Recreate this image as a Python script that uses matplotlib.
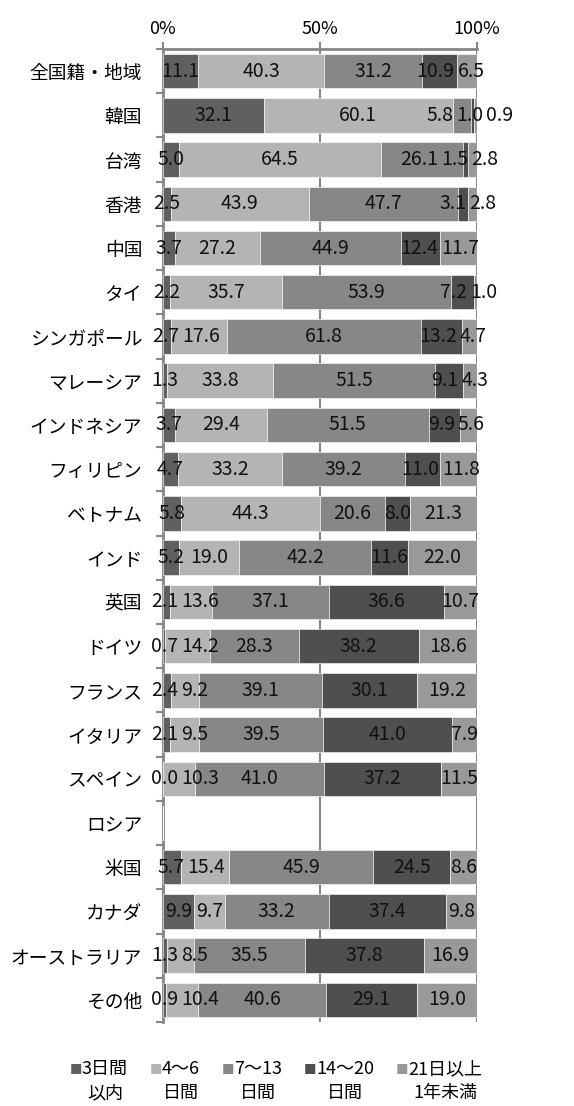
import numpy as np
import matplotlib
matplotlib.use("Agg")
import matplotlib.pyplot as plt

plt.rcParams['font.family'] = ['Noto Sans CJK JP', 'DejaVu Sans']

# カテゴリ（上から順）
categories = ["全国籍・地域", "韓国", "台湾", "香港", "中国", "タイ", "シンガポール",
              "マレーシア", "インドネシア", "フィリピン", "ベトナム", "インド", "英国",
              "ドイツ", "フランス", "イタリア", "スペイン", "ロシア", "米国", "カナダ",
              "オーストラリア", "その他"]

series_names = ["3日間\n以内", "4～6\n日間", "7～13\n日間", "14～20\n日間", "21日以上\n1年未満"]
colors = ["#606060", "#b4b4b4", "#878787", "#4f4f4f", "#999999"]

nan = np.nan
s_3days = [11.1, 32.1, 5.0, 2.5, 3.7, 2.2, 2.7, 1.3, 3.7, 4.7, 5.8, 5.2, 2.1, 0.7, 2.4, 2.1, 0.0, nan, 5.7, 9.9, 1.3, 0.9]
s_4_6 = [40.3, 60.1, 64.5, 43.9, 27.2, 35.7, 17.6, 33.8, 29.4, 33.2, 44.3, 19.0, 13.6, 14.2, 9.2, 9.5, 10.3, nan, 15.4, 9.7, 8.5, 10.4]
s_7_13 = [31.2, 5.8, 26.1, 47.7, 44.9, 53.9, 61.8, 51.5, 51.5, 39.2, 20.6, 42.2, 37.1, 28.3, 39.1, 39.5, 41.0, nan, 45.9, 33.2, 35.5, 40.6]
s_14_20 = [10.9, 1.0, 1.5, 3.1, 12.4, 7.2, 13.2, 9.1, 9.9, 11.0, 8.0, 11.6, 36.6, 38.2, 30.1, 41.0, 37.2, nan, 24.5, 37.4, 37.8, 29.1]
s_21plus = [6.5, 0.9, 2.8, 2.8, 11.7, 1.0, 4.7, 4.3, 5.6, 11.8, 21.3, 22.0, 10.7, 18.6, 19.2, 7.9, 11.5, nan, 8.6, 9.8, 16.9, 19.0]

series = [s_3days, s_4_6, s_7_13, s_14_20, s_21plus]
xticks = [0, 50, 100]
xticklabels = ["0%", "50%", "100%"]

W, H = 574, 1106
fig = plt.figure(figsize=(W / 100, H / 100), dpi=100)
ax = fig.add_axes([163 / W, 1 - 1022 / H, (477 - 163) / W, (1022 - 49) / H])

y = np.arange(len(categories))
left = np.zeros(len(categories))
gray = "#868686"

label_rows = [[] for _ in categories]
for vals, col in zip(series, colors):
    v = np.array(vals, dtype=float)
    vv = np.nan_to_num(v)
    ax.barh(y, vv, left=left, height=0.78, color=col, edgecolor="white",
            linewidth=0.4, zorder=3)
    for i, val in enumerate(v):
        if np.isnan(val):
            continue
        t = ax.text(left[i] + val / 2, y[i], f"{val:.1f}", ha="center", va="center",
                    fontsize=14, color="#111111", zorder=5)
        label_rows[i].append(t)
    left += vv

ax.set_xlim(0, 100)
ax.set_ylim(len(categories) - 0.5, -0.5)

# gridlines / spines
for gx in [50, 100]:
    ax.axvline(gx, color=gray, lw=1.5, zorder=1)
for s in ["right", "bottom"]:
    ax.spines[s].set_visible(False)
for s in ["left", "top"]:
    ax.spines[s].set_color(gray)
    ax.spines[s].set_linewidth(2)

ax.xaxis.tick_top()
ax.set_xticks(xticks)
ax.set_xticklabels(xticklabels, fontsize=13)
ax.tick_params(axis="x", direction="out", length=5, width=1.5, color=gray, pad=3)

ax.set_yticks(y)
ax.set_yticklabels(categories, fontsize=13.5)
ax.tick_params(axis="y", which="major", length=0, pad=15)
ax.set_yticks(np.arange(len(categories) + 1) - 0.5, minor=True)
ax.tick_params(axis="y", which="minor", direction="out", length=5, width=1.5, color=gray)

# 重なったラベルをずらす
fig.canvas.draw()
r = fig.canvas.get_renderer()
inv = ax.transData.inverted()
gap = 3
for texts in label_rows:
    if not texts:
        continue
    bbs = [t.get_window_extent(r) for t in texts]
    c = [(b.x0 + b.x1) / 2 for b in bbs]
    w = [b.width for b in bbs]
    ypix = (bbs[0].y0 + bbs[0].y1) / 2
    for _ in range(200):
        moved = False
        for k in range(len(c) - 1):
            ov = (c[k] + w[k] / 2 + gap) - (c[k + 1] - w[k + 1] / 2)
            if ov > 0.01:
                c[k] -= ov / 2
                c[k + 1] += ov / 2
                moved = True
        # 左端は軸より左に出過ぎないように
        lim = ax.transData.transform((0, 0))[0] - 12
        if c[0] - w[0] / 2 < lim:
            c[0] = lim + w[0] / 2
        if not moved:
            break
    for t, cx in zip(texts, c):
        xd = inv.transform((cx, ypix))[0]
        t.set_x(xd)

# 凡例（手書き）
x0 = 70
yl = 1071
for name, col in zip(series_names, colors):
    fig.text(x0 / W, 1 - yl / H, "■", color=col, fontsize=9, ha="left", va="center")
    t = fig.text((x0 + 12) / W, 1 - (yl - 11) / H, name, fontsize=13, ha="left",
                 va="top", multialignment="center", linespacing=1.45)
    bb = t.get_window_extent(r)
    x0 = x0 + 12 + bb.width + 22

fig.savefig("out.png", dpi=100)
